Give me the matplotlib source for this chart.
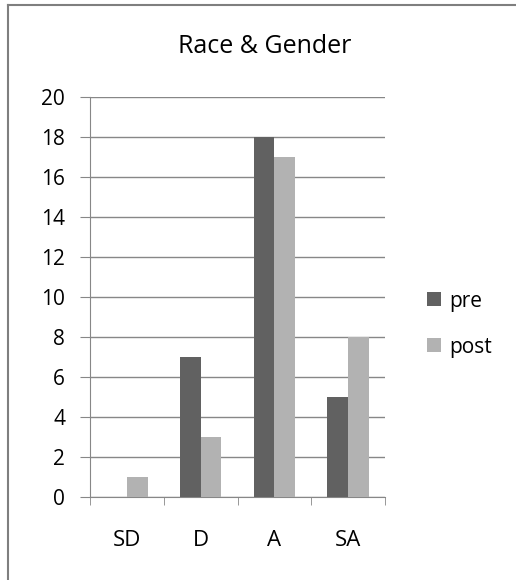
import matplotlib.pyplot as plt
import numpy as np
from matplotlib.lines import Line2D

categories = ['SD', 'D', 'A', 'SA']
pre = [0, 7, 18, 5]
post = [1, 3, 17, 8]
yticks = [0, 2, 4, 6, 8, 10, 12, 14, 16, 18, 20]

plt.rcParams['font.family'] = ['Open Sans', 'DejaVu Sans']

fig = plt.figure(figsize=(5.16, 5.8), dpi=100)
W, H = 516, 580
ax = fig.add_axes([90/W, 1-497/H, 295/W, 400/H])

x = np.arange(len(categories))
w = 0.28
ax.bar(x - w/2, pre, w, color='#616161', label='pre', zorder=3)
ax.bar(x + w/2, post, w, color='#b2b2b2', label='post', zorder=3)

ax.set_xlim(-0.5, len(categories) - 0.5)
ax.set_ylim(0, 20)
ax.set_yticks(yticks)
ax.yaxis.grid(True, color='#878787', linewidth=1, zorder=0)
ax.set_xticks(x)
ax.set_xticklabels(categories)
ax.set_xticks(np.arange(-0.5, len(categories)), minor=True)
ax.tick_params(axis='x', which='major', length=0, pad=24, labelsize=16)
ax.tick_params(axis='x', which='minor', length=6, color='#878787', direction='out')
ax.tick_params(axis='y', length=7, color='#878787', labelsize=15, pad=11)
for s in ['top', 'right']:
    ax.spines[s].set_visible(False)
for s in ['left', 'bottom']:
    ax.spines[s].set_color('#878787')

fig.text(265/W, 1-53/H, 'Race & Gender', ha='center', va='baseline', fontsize=18)

fig.legend(loc='center left', bbox_to_anchor=(427/W, 1-324/H), frameon=False,
           fontsize=15, handlelength=0.67, handleheight=0.67, labelspacing=1.2,
           handletextpad=0.4, borderpad=0, borderaxespad=0)

# chart border (left and top edges visible)
fig.add_artist(Line2D([8/W, 8/W], [0, 1-5/H], color='#7f7f7f', linewidth=1.5, transform=fig.transFigure))
fig.add_artist(Line2D([8/W, 1], [1-5/H, 1-5/H], color='#7f7f7f', linewidth=1.5, transform=fig.transFigure))

fig.savefig('out.png', dpi=100)
